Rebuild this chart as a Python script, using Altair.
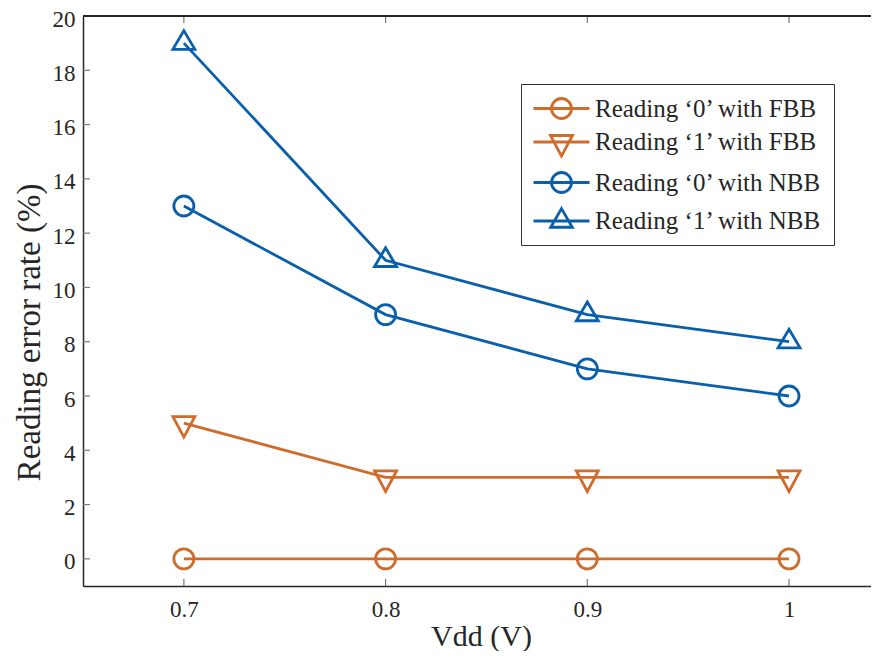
import altair as alt
import pandas as pd

# ---- data ----
vdd = [0.7, 0.8, 0.9, 1.0]
series = ["Reading ‘0’ with FBB", "Reading ‘1’ with FBB",
          "Reading ‘0’ with NBB", "Reading ‘1’ with NBB"]
r0_fbb = [0, 0, 0, 0]
r1_fbb = [5, 3, 3, 3]
r0_nbb = [13, 9, 7, 6]
r1_nbb = [19, 11, 9, 8]
values = [r0_fbb, r1_fbb, r0_nbb, r1_nbb]

x_ticks = [0.7, 0.8, 0.9, 1.0]
y_ticks = [0, 2, 4, 6, 8, 10, 12, 14, 16, 18, 20]

ORANGE = "#CF6C2C"
BLUE = "#0A5FAD"
colors = [ORANGE, ORANGE, BLUE, BLUE]

# plot marker paths (centroid-centred like MATLAB markers)
CIRCLE = "M1,0A1,1 0 1,1 -1,0A1,1 0 1,1 1,0Z"
TRI_DOWN = "M-1.1,-0.65H1.1L0,1.4Z"
TRI_UP = "M0,-1.25L1.1,0.62H-1.1Z"
marker_paths = [CIRCLE, TRI_DOWN, CIRCLE, TRI_UP]

# legend symbols: line + marker
LEG_CIRCLE = "M-1,0H3.667M2.167,0A0.833,0.833 0 1,1 0.5,0A0.833,0.833 0 1,1 2.167,0Z"
LEG_DOWN = "M-1,0H3.667M0.416,-0.54H2.25L1.333,1.17Z"
LEG_UP = "M-1,0H3.667M1.333,-1.03L2.233,0.52H0.433Z"
legend_paths = [LEG_CIRCLE, LEG_DOWN, LEG_CIRCLE, LEG_UP]

rows = []
for s, vals, c, p in zip(series, values, colors, marker_paths):
    for xv, yv in zip(vdd, vals):
        rows.append({"vdd": xv, "rate": yv, "series": s, "hex": c, "path": p})
df = pd.DataFrame(rows)

W, H = 796, 570
FONT = "Liberation Serif"
TXT = "#262626"

xscale = alt.Scale(domain=[0.65, 1.0446], nice=False, zero=False)
yscale = alt.Scale(domain=[-1, 20], nice=False, zero=False)

x_enc = alt.X("vdd:Q", scale=xscale,
              axis=alt.Axis(values=x_ticks, format="~g", title="Vdd (V)",
                            ticks=False, tickSize=0, labelPadding=12,
                            labelFont=FONT, labelFontSize=23,
                            titleFont=FONT, titleFontSize=30,
                            titlePadding=0, grid=False))
y_enc = alt.Y("rate:Q", scale=yscale,
              axis=alt.Axis(values=y_ticks, title="Reading error rate (%)",
                            ticks=False, tickSize=0, labelPadding=8,
                            labelOffset=3,
                            labelFont=FONT, labelFontSize=23,
                            titleFont=FONT, titleFontSize=33,
                            titleY=316,
                            titlePadding=6, grid=False))

base = alt.Chart(df)

lines = base.mark_line(strokeWidth=2.8).encode(
    x=x_enc, y=y_enc,
    detail="series:N",
    color=alt.Color("hex:N", scale=None),
)

points = base.mark_point(filled=False, strokeWidth=2.8, size=400, opacity=1).encode(
    x="vdd:Q", y="rate:Q",
    color=alt.Color("hex:N", scale=None),
    shape=alt.Shape("path:N", scale=None),
)

leg = alt.Legend(title=None, orient="none", legendX=438, legendY=68,
                 padding=11, strokeColor="#333333", fillColor="white",
                 labelFont=FONT, labelFontSize=25, labelColor=TXT,
                 labelOffset=36, rowPadding=3.5, symbolSize=576,
                 symbolStrokeWidth=2.8, symbolOpacity=1, labelLimit=400)

legend_layer = base.mark_point(filled=False, opacity=0, size=576).encode(
    x="vdd:Q", y="rate:Q",
    color=alt.Color("series:N", scale=alt.Scale(domain=series, range=colors),
                    legend=leg, sort=series),
    shape=alt.Shape("series:N", scale=alt.Scale(domain=series, range=legend_paths),
                    legend=leg, sort=series),
)

# inward ticks
xt = pd.DataFrame({"vdd": x_ticks})
yt = pd.DataFrame({"rate": y_ticks})
tick_style = dict(color="#777777", strokeWidth=1.2)
bottom_ticks = alt.Chart(xt).mark_rule(**tick_style).encode(
    x="vdd:Q", y=alt.value(H), y2=alt.value(H - 7))
top_ticks = alt.Chart(xt).mark_rule(**tick_style).encode(
    x="vdd:Q", y=alt.value(0), y2=alt.value(7))
left_ticks = alt.Chart(yt).mark_rule(**tick_style).encode(
    y="rate:Q", x=alt.value(0), x2=alt.value(7))
top_frame = alt.Chart(xt).mark_rule(color=TXT, strokeWidth=1.5).encode(
    x=alt.value(0), x2=alt.value(W), y=alt.value(0))

chart = alt.layer(
    lines, points, legend_layer, bottom_ticks, top_ticks, left_ticks, top_frame
).properties(
    width=W, height=H,
    autosize=alt.AutoSizeParams(type="none"),
    padding={"left": 75, "top": 8, "right": -8, "bottom": 65},
).configure_view(stroke=None).configure_axis(
    labelFont=FONT, labelFontSize=23, labelColor=TXT,
    titleFont=FONT, titleFontWeight="normal", titleColor=TXT,
    domainColor=TXT, domainWidth=1.5,
)

chart.save("out.html", embed_options={"renderer": "svg", "actions": False})
